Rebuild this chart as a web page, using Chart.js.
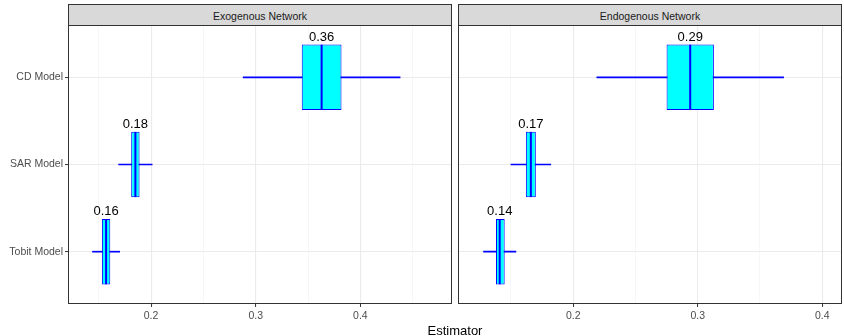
<!DOCTYPE html>
<html>
<head>
<meta charset="utf-8">
<script src="https://cdn.jsdelivr.net/npm/chart.js@4.4.1/dist/chart.umd.min.js"></script>
<style>
html,body{margin:0;padding:0;background:#fff;}
#wrap{position:relative;width:844px;height:336px;overflow:hidden;font-family:'Liberation Sans',Arial,Helvetica,sans-serif;}
canvas{position:absolute;top:0;}
.strip{position:absolute;top:4px;height:22px;box-sizing:border-box;border:1px solid #333333;background:#D9D9D9;color:#1A1A1A;font-size:10.5px;display:flex;align-items:center;justify-content:center;padding-top:2px;}
#xtitle{position:absolute;left:355px;width:200px;top:324px;line-height:13px;font-size:13px;color:#000;text-align:center;}
</style>
</head>
<body>
<div id="wrap">
  <canvas id="exo" width="452" height="336" style="left:0px;width:452px;height:336px"></canvas>
  <canvas id="endo" width="386" height="336" style="left:458px;width:386px;height:336px"></canvas>
  <div class="strip" style="left:68px;width:384px" id="strip0"></div>
  <div class="strip" style="left:458px;width:384px" id="strip1"></div>
  <div id="xtitle">Estimator</div>
</div>
<script>
// ---- data ----
const categories = ['CD Model', 'SAR Model', 'Tobit Model'];
const panelTitles = ['Exogenous Network', 'Endogenous Network'];
const xAxisTitle = 'Estimator';

const exoWhiskerLow  = [0.288, 0.169, 0.144];
const exoQ1          = [0.344, 0.181, 0.153];
const exoMedian      = [0.363, 0.185, 0.157];
const exoQ3          = [0.382, 0.189, 0.161];
const exoWhiskerHigh = [0.438, 0.201, 0.170];
const exoLabels      = ['0.36', '0.18', '0.16'];

const endoWhiskerLow  = [0.219, 0.150, 0.128];
const endoQ1          = [0.275, 0.162, 0.138];
const endoMedian      = [0.294, 0.166, 0.141];
const endoQ3          = [0.313, 0.170, 0.145];
const endoWhiskerHigh = [0.369, 0.182, 0.154];
const endoLabels      = ['0.29', '0.17', '0.14'];

const majorTicks = [0.2, 0.3, 0.4];
const minorTicks = [0.15, 0.25, 0.35, 0.45];
const exoLimits  = [0.1206, 0.4876];
const endoLimits = [0.1075, 0.4159];
const yLimits    = [-0.6, 2.6];

// ---- drawing ----
const FONT = "'Liberation Sans', Arial, Helvetica, sans-serif";
document.getElementById('strip0').textContent = panelTitles[0];
document.getElementById('strip1').textContent = panelTitles[1];
document.getElementById('xtitle').textContent = xAxisTitle;

function isMajor(c) { return !!(c && c.tick && majorTicks.includes(c.tick.value)); }

function overlayPlugin(p) {
  return {
    id: 'overlay',
    afterDatasetsDraw(chart) {
      const ctx = chart.ctx, a = chart.chartArea;
      const boxMeta = chart.getDatasetMeta(1);
      ctx.save();
      ctx.font = '13px ' + FONT;
      ctx.fillStyle = '#000000';
      ctx.textAlign = 'center';
      ctx.textBaseline = 'alphabetic';
      categories.forEach((c, i) => {
        const el = boxMeta.data[i];
        const x = chart.scales.x.getPixelForValue(p.median[i]);
        const top = el.y - el.height / 2;
        ctx.fillText(p.labels[i], x, top - 4);
      });
      ctx.strokeStyle = '#333333';
      ctx.lineWidth = 1;
      const l = Math.round(a.left), t = Math.round(a.top), r = Math.round(a.right), b = Math.round(a.bottom);
      ctx.strokeRect(l + 0.5, t + 0.5, r - l - 1, b - t - 1);
      ctx.restore();
    }
  };
}

function makePanel(id, p) {
  const idx = categories.map((c, i) => i);
  const [xmin, xmax] = p.limits;
  return new Chart(document.getElementById(id), {
    type: 'bar',
    data: {
      datasets: [
        {
          type: 'scatter', label: 'median',
          data: idx.map(i => ({ x: p.median[i], y: i })),
          pointStyle: 'line', pointRotation: 90, pointRadius: 32.6,
          pointBorderWidth: 2, pointBorderColor: '#0000FF', pointBackgroundColor: '#0000FF',
          order: 0
        },
        {
          type: 'bar', label: 'box', indexAxis: 'y',
          data: idx.map(i => ({ y: i, x: [p.q1[i], p.q3[i]] })),
          backgroundColor: '#00FFFF', borderColor: '#0000FF', borderWidth: 1, borderSkipped: false,
          grouped: false, barPercentage: 0.75, categoryPercentage: 1, order: 1
        },
        {
          type: 'bar', label: 'whisker', indexAxis: 'y',
          data: idx.map(i => ({ y: i, x: [p.lo[i], p.hi[i]] })),
          backgroundColor: '#0000FF', borderWidth: 0, borderSkipped: false,
          grouped: false, barThickness: 1, order: 2
        }
      ]
    },
    options: {
      responsive: false, animation: false, events: [],
      indexAxis: 'y',
      layout: { autoPadding: false, padding: { top: 25, right: p.padRight, left: 0, bottom: 0 } },
      plugins: { legend: { display: false }, tooltip: { enabled: false }, title: { display: false } },
      scales: {
        x: {
          type: 'linear', min: xmin, max: xmax, offset: false, beginAtZero: false,
          afterBuildTicks: s => {
            s.ticks = majorTicks.concat(minorTicks).filter(v => v >= xmin && v <= xmax)
              .sort((a, b) => a - b).map(v => ({ value: v }));
          },
          afterFit: s => { s.height = 32; },
          border: { display: false },
          grid: {
            offset: false, drawTicks: true, tickLength: 3, tickWidth: 1,
            color: c => isMajor(c) ? '#EBEBEB' : '#F2F2F2',
            lineWidth: c => isMajor(c) ? 1.1 : 0.6,
            tickColor: c => isMajor(c) ? '#333333' : 'rgba(0,0,0,0)'
          },
          ticks: {
            autoSkip: false, maxRotation: 0, minRotation: 0, padding: 2.5,
            color: '#4D4D4D', font: { family: FONT, size: 10.5 },
            callback: v => majorTicks.includes(v) ? String(v) : ''
          }
        },
        y: {
          type: 'linear', reverse: true, min: yLimits[0], max: yLimits[1], offset: false,
          afterBuildTicks: s => { s.ticks = idx.map(i => ({ value: i })); },
          afterFit: s => { s.width = p.showY ? 68 : 0; },
          border: { display: false },
          grid: {
            offset: false, color: '#EBEBEB', lineWidth: 1.1,
            drawTicks: p.showY, tickLength: 3, tickWidth: 1, tickColor: '#333333'
          },
          ticks: {
            display: p.showY, autoSkip: false, padding: 2,
            color: '#4D4D4D', font: { family: FONT, size: 10.5 },
            callback: v => (categories[v] !== undefined ? categories[v] : '')
          }
        }
      }
    },
    plugins: [overlayPlugin(p)]
  });
}

makePanel('exo', {
  lo: exoWhiskerLow, q1: exoQ1, median: exoMedian, q3: exoQ3, hi: exoWhiskerHigh,
  labels: exoLabels, limits: exoLimits, showY: true, padRight: 0
});
makePanel('endo', {
  lo: endoWhiskerLow, q1: endoQ1, median: endoMedian, q3: endoQ3, hi: endoWhiskerHigh,
  labels: endoLabels, limits: endoLimits, showY: false, padRight: 2
});
</script>
</body>
</html>
